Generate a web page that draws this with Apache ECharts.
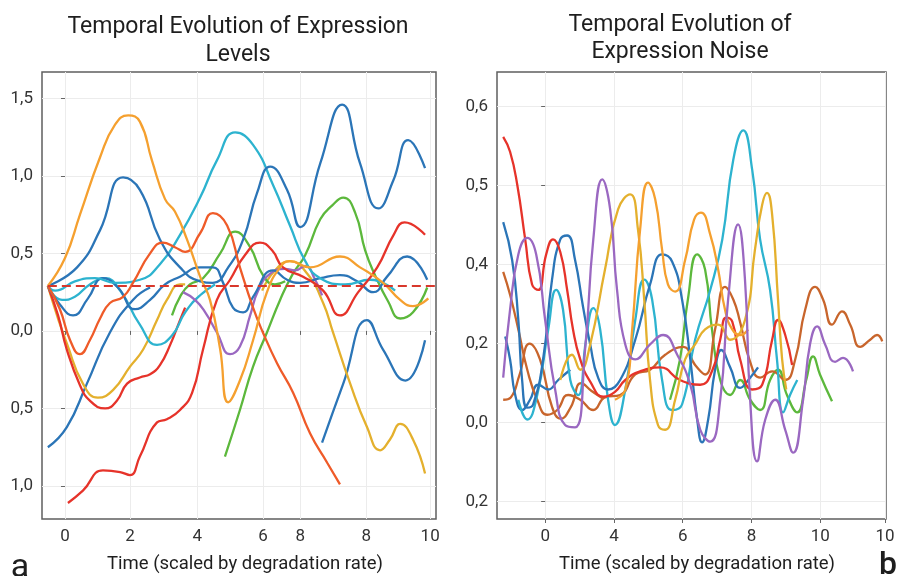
<!DOCTYPE html>
<html>
<head>
<meta charset="utf-8">
<script src="https://cdn.jsdelivr.net/npm/echarts@6/dist/echarts.min.js"></script>
<style>
  html, body { margin: 0; background: #fff; }
  #chart { width: 898px; height: 576px; }
</style>
</head>
<body>
<div id="chart"></div>
<script>
// ---- panel a: tick positions and labels (labels copied as printed) ----
const levelXTicks = [0, 1.78, 3.62, 5.42, 6.44, 8.25, 10];
const levelXLabels = ['0', '2', '4', '6', '8', '8', '10'];
const levelYTicks = [-1, -0.5, 0, 0.5, 1, 1.5];
const levelYLabels = ['1,0', '0,5', '0,0', '0,5', '1,0', '1,5'];
const levelBaseline = 0.29;

// ---- panel a: traces [time, level] ----
const levelOrange = [[-0.47,0.29],[0,0.47],[0.41,0.75],[0.96,1.12],[1.37,1.33],[1.73,1.39],[2.05,1.35],[2.38,1.10],[2.74,0.85],[3.01,0.77],[3.34,0.59],[3.70,0.35],[3.97,0.20],[4.25,-0.12],[4.47,-0.46],[4.79,-0.32],[5.15,-0.06],[5.53,0.25],[5.89,0.41],[6.16,0.45],[6.71,0.41],[7.53,0.48],[8.08,0.41],[8.71,0.31],[9.18,0.20],[9.53,0.16],[9.95,0.21]];
const levelBlueA = [[-0.47,0.29],[0.33,0.41],[0.96,0.65],[1.59,0.99],[2.05,0.91],[2.60,0.59],[3.15,0.41],[3.70,0.32],[4.05,0.31],[4.47,0.41],[4.88,0.59],[5.26,0.89],[5.62,1.06],[6.08,0.91],[6.44,0.67],[6.99,1.08],[7.59,1.46],[8.08,1.08],[8.58,0.79],[8.99,0.97],[9.40,1.23],[9.86,1.05]];
const levelBlueB = [[-0.47,0.29],[-0.14,0.17],[0.22,0.10],[0.63,0.21],[1.04,0.34],[1.45,0.28],[1.92,0.14],[2.33,0.20],[2.74,0.30],[3.15,0.35],[3.70,0.41],[4.05,0.41],[4.33,0.31],[4.60,0.15],[4.88,0.12],[5.15,0.22],[5.70,0.39],[6.08,0.33],[6.44,0.31],[6.99,0.34],[7.53,0.36],[8.00,0.32],[8.44,0.25],[8.82,0.35],[9.37,0.48],[9.92,0.33]];
const levelBlueC = [[7.04,-0.72],[7.62,-0.34],[8.27,0.07],[8.71,-0.12],[9.32,-0.32],[9.86,-0.06]];
const levelBlueD = [[-0.47,-0.75],[0.05,-0.62],[0.60,-0.34],[1.23,-0.01],[1.86,0.20],[2.33,0.28]];
const levelCyanA = [[-0.47,0.29],[-0.27,0.26],[0.27,0.32],[0.82,0.34],[1.37,0.31],[2.05,0.33],[2.60,0.43],[3.15,0.62],[3.70,0.86],[4.16,1.10],[4.66,1.28],[5.15,1.20],[5.70,0.94],[6.16,0.68],[6.58,0.45],[6.99,0.34],[7.67,0.30],[8.36,0.33],[9.04,0.26]];
const levelCyanB = [[-0.47,0.29],[-0.08,0.20],[0.27,0.22],[0.68,0.30],[1.10,0.34],[1.51,0.26],[2.05,0.04],[2.52,-0.09],[2.93,-0.03],[3.29,0.12],[3.70,0.23],[4.11,0.30]];
const levelRedA = [[0.08,-1.11],[0.49,-1.03],[1.04,-0.90],[1.51,-0.91],[1.78,-0.93],[2.05,-0.81],[2.52,-0.59],[2.79,-0.57],[3.15,-0.51],[3.48,-0.40],[3.78,-0.12],[4.16,0.20],[4.52,0.33],[4.93,0.49],[5.34,0.57],[5.67,0.52],[5.97,0.41],[6.52,0.35],[7.07,0.26],[7.53,0.10],[8.03,0.25],[8.55,0.41],[9.00,0.62],[9.30,0.70],[9.86,0.62]];
const levelRedB = [[-0.47,0.29],[-0.14,0.14],[0.14,-0.06],[0.41,-0.15],[0.68,-0.06],[0.96,0.08],[1.23,0.18],[1.59,0.22],[1.86,0.31],[2.33,0.50],[2.68,0.57],[3.01,0.54],[3.29,0.51],[3.70,0.63],[4.05,0.76],[4.44,0.68],[4.79,0.41],[5.15,0.15],[5.42,-0.01],[5.81,-0.21],[6.25,-0.40],[6.71,-0.66],[7.18,-0.85],[7.53,-0.99]];
const levelRedC = [[-0.47,0.29],[-0.19,0.10],[0.05,-0.12],[0.41,-0.35],[0.68,-0.45],[1.10,-0.50],[1.42,-0.45],[1.70,-0.34],[2.05,-0.30],[2.33,-0.28],[2.60,-0.22],[2.88,-0.09],[3.15,0.07],[3.29,0.15]];
const levelPurple = [[3.23,0.25],[3.56,0.20],[3.84,0.12],[4.16,-0.01],[4.52,-0.15],[4.79,-0.10],[5.07,0.10],[5.29,0.26],[5.62,0.37],[6.03,0.40],[6.30,0.39],[6.58,0.42],[6.85,0.33],[7.04,0.23]];
const levelGoldA = [[-0.47,0.29],[-0.19,0.08],[0.05,-0.08],[0.49,-0.34],[0.90,-0.43],[1.32,-0.38],[1.78,-0.23],[2.14,-0.12],[2.52,0.07],[2.79,0.20],[3.15,0.30],[3.29,0.30]];
const levelGoldB = [[5.40,0.26],[5.75,0.39],[6.16,0.45],[6.63,0.37],[7.07,0.18],[7.34,-0.01],[7.81,-0.34],[8.27,-0.62],[8.63,-0.77],[8.90,-0.70],[9.18,-0.60],[9.53,-0.70],[9.86,-0.92]];
const levelGreenA = [[4.38,-0.81],[4.79,-0.51],[5.15,-0.23],[5.53,-0.01],[5.89,0.20],[6.22,0.36],[6.58,0.49],[6.99,0.72],[7.32,0.81],[7.62,0.86],[7.95,0.76],[8.22,0.52],[8.49,0.36],[8.85,0.19],[9.18,0.08],[9.53,0.12],[9.92,0.28]];
const levelGreenB = [[2.93,0.10],[3.15,0.22],[3.42,0.30],[3.78,0.34],[4.25,0.50],[4.66,0.64],[5.07,0.54],[5.42,0.36],[5.75,0.30],[6.03,0.32]];

// ---- panel b: tick positions and labels (labels copied as printed) ----
const noiseXTicks = [0, 2, 4, 6, 8, 9.88];
const noiseXLabels = ['0', '4', '6', '8', '10', '10'];
const noiseYTicks = [0.1, 0.2, 0.3, 0.4, 0.5, 0.6];
const noiseYLabels = ['0,2', '0,0', '0,2', '0,4', '0,5', '0,6'];

// ---- panel b: traces [time, noise] ----
const noiseRed = [[-1.22,0.562],[-1.02,0.543],[-0.81,0.501],[-0.58,0.432],[-0.38,0.375],[-0.20,0.368],[0.03,0.413],[0.23,0.432],[0.44,0.416],[0.64,0.368],[0.81,0.318],[1.02,0.280],[1.31,0.252],[1.69,0.233],[2.03,0.239],[2.33,0.254],[2.76,0.265],[3.34,0.270],[3.92,0.254],[4.51,0.248],[4.85,0.265],[5.09,0.305],[5.26,0.333],[5.44,0.328],[5.67,0.280],[6.02,0.242],[6.31,0.248],[6.60,0.305],[6.77,0.330],[6.98,0.311],[7.18,0.273]];
const noiseBlueA = [[-1.22,0.454],[-0.96,0.406],[-0.78,0.330],[-0.67,0.254],[-0.52,0.219],[-0.35,0.223],[-0.06,0.280],[0.20,0.381],[0.44,0.432],[0.64,0.437],[0.87,0.406],[1.10,0.347],[1.31,0.299],[1.54,0.257],[1.83,0.242],[2.18,0.254],[2.62,0.305],[3.05,0.375],[3.40,0.413],[3.69,0.404],[3.98,0.356],[4.22,0.280],[4.42,0.204],[4.56,0.175],[4.74,0.204],[4.94,0.267],[5.12,0.292],[5.38,0.270],[5.67,0.244],[5.96,0.257],[6.19,0.270]];
const noiseBlueB = [[-1.16,0.309],[-1.02,0.280],[-0.87,0.235],[-0.67,0.216],[-0.44,0.229],[-0.20,0.248],[0.09,0.242],[0.38,0.254],[0.73,0.267]];
const noisePurple = [[-1.22,0.257],[-1.02,0.343],[-0.78,0.413],[-0.52,0.434],[-0.26,0.413],[0.00,0.330],[0.29,0.242],[0.58,0.197],[0.87,0.194],[1.16,0.292],[1.40,0.432],[1.66,0.508],[1.89,0.470],[2.09,0.368],[2.33,0.299],[2.62,0.280],[3.05,0.299],[3.43,0.311],[3.84,0.286],[4.22,0.248],[4.51,0.191],[4.80,0.176],[5.09,0.229],[5.32,0.356],[5.61,0.451],[5.81,0.381],[5.96,0.229],[6.16,0.151],[6.40,0.204],[6.69,0.229],[6.98,0.191],[7.21,0.162],[7.50,0.229],[7.70,0.299],[7.91,0.322],[8.14,0.299],[8.43,0.277],[8.66,0.282],[8.95,0.265]];
const noiseCyan = [[-0.78,0.229],[-0.52,0.204],[-0.23,0.235],[0.09,0.318],[0.32,0.368],[0.52,0.343],[0.73,0.254],[0.96,0.235],[1.19,0.305],[1.40,0.345],[1.60,0.318],[1.83,0.229],[2.03,0.197],[2.33,0.242],[2.62,0.330],[2.88,0.381],[3.11,0.356],[3.40,0.254],[3.69,0.216],[3.98,0.223],[4.36,0.305],[4.80,0.368],[5.15,0.432],[5.47,0.533],[5.76,0.570],[6.02,0.520],[6.25,0.432],[6.54,0.368],[6.74,0.280],[6.92,0.213],[7.12,0.235],[7.33,0.254]];
const noiseGold = [[0.44,0.254],[0.78,0.286],[1.02,0.267],[1.31,0.299],[1.74,0.394],[2.12,0.470],[2.47,0.489],[2.70,0.444],[2.88,0.356],[3.05,0.254],[3.28,0.197],[3.49,0.191],[3.78,0.229],[4.07,0.280],[4.36,0.299],[4.65,0.318],[5.03,0.324],[5.38,0.305],[5.81,0.330],[6.10,0.419],[6.31,0.476],[6.45,0.491],[6.60,0.463],[6.77,0.356],[6.89,0.280],[7.01,0.242]];
const noiseOrange = [[2.03,0.229],[2.33,0.242],[2.53,0.318],[2.76,0.444],[2.99,0.504],[3.20,0.483],[3.40,0.419],[3.57,0.375],[3.78,0.366],[4.07,0.406],[4.33,0.457],[4.53,0.466],[4.80,0.438],[5.03,0.394],[5.23,0.343],[5.44,0.318],[5.67,0.311],[5.90,0.318]];
const noiseGreen = [[3.63,0.229],[3.92,0.280],[4.15,0.356],[4.42,0.413],[4.65,0.394],[4.85,0.318],[5.09,0.254],[5.38,0.235],[5.67,0.254],[5.96,0.229],[6.25,0.216],[6.54,0.254],[6.77,0.267],[7.03,0.235],[7.33,0.213],[7.59,0.254],[7.79,0.284],[7.99,0.261],[8.34,0.227]];
const noiseBrownA = [[-1.22,0.391],[-1.02,0.362],[-0.78,0.318],[-0.52,0.267],[-0.23,0.229],[0.06,0.210],[0.35,0.216],[0.67,0.235],[1.02,0.229],[1.40,0.216],[1.74,0.232],[2.18,0.235],[2.62,0.261],[3.05,0.267],[3.49,0.286],[4.01,0.296],[4.36,0.273],[4.65,0.261],[4.94,0.318],[5.23,0.372],[5.47,0.356],[5.67,0.327],[5.96,0.277],[6.25,0.257],[6.60,0.265],[6.98,0.254],[7.27,0.280],[7.56,0.343],[7.85,0.372],[8.08,0.356],[8.34,0.324],[8.63,0.341],[8.87,0.324],[9.16,0.296],[9.45,0.305],[9.65,0.311],[9.80,0.303]];
const noiseBrownB = [[-1.22,0.229],[-1.00,0.232],[-0.75,0.260],[-0.45,0.300],[-0.15,0.280],[0.20,0.220],[0.45,0.205],[0.75,0.220],[1.05,0.250],[1.35,0.240],[1.70,0.230]];

const C = {
  blue: '#2b75b7', cyan: '#2db3cf', orange: '#f5a02f', gold: '#e4b02d',
  red: '#e6332a', redOrange: '#ef5b29', green: '#5cb83c', purple: '#9a68c1', brown: '#c8652c'
};

const chart = echarts.init(document.getElementById('chart'));

const labelOf = (ticks, labels) => v => {
  const i = ticks.findIndex(t => Math.abs(t - v) < 1e-6);
  return i < 0 ? '' : labels[i];
};

const trace = (data, color, idx) => ({
  type: 'line',
  xAxisIndex: idx,
  yAxisIndex: idx,
  data: data,
  smooth: 0.5,
  symbol: 'none',
  silent: true,
  lineStyle: { color: color, width: 2.3 }
});

const axisBase = (idx, min, max, ticks, labels) => ({
  type: 'value',
  gridIndex: idx,
  min: min,
  max: max,
  axisLine: { show: false },
  axisTick: { show: true, customValues: ticks, length: 4, lineStyle: { color: '#666' } },
  axisLabel: {
    customValues: ticks,
    formatter: labelOf(ticks, labels),
    color: '#333',
    fontSize: 17,
    fontFamily: 'Roboto',
    margin: 9
  },
  splitLine: { show: true, lineStyle: { color: '#ececec', width: 1 } }
});

const textStyle = (text, x, y, font) => ({
  type: 'text', x: x, y: y,
  style: { text: text, fill: '#1e1e1e', font: font, textAlign: 'center', textVerticalAlign: 'middle' }
});

const option = {
  backgroundColor: '#fff',
  animation: false,
  grid: [
    { left: 42, top: 72, width: 394, height: 447, show: true, borderColor: '#5f5f5f', borderWidth: 1.5 },
    { left: 497, top: 72, width: 389, height: 447, show: true, borderColor: '#5f5f5f', borderWidth: 1.5 }
  ],
  xAxis: [
    axisBase(0, -0.63, 10.16, levelXTicks, levelXLabels),
    axisBase(1, -1.40, 9.91, noiseXTicks, noiseXLabels)
  ],
  yAxis: [
    axisBase(0, -1.213, 1.67, levelYTicks, levelYLabels),
    axisBase(1, 0.078, 0.644, noiseYTicks, noiseYLabels)
  ],
  graphic: [
    textStyle('Temporal Evolution of Expression', 238, 27, '23px Roboto'),
    textStyle('Levels', 238, 55, '23px Roboto'),
    textStyle('Temporal Evolution of', 680, 25, '23px Roboto'),
    textStyle('Expression Noise', 680, 52, '23px Roboto'),
    textStyle('Time (scaled by degradation rate)', 245, 564, '18.5px Roboto'),
    textStyle('Time (scaled by degradation rate)', 697, 564, '18.5px Roboto'),
    textStyle('a', 20, 568, '34px Roboto'),
    textStyle('b', 888, 566, '500 32px Roboto')
  ],
  series: [
    trace(levelBlueD, C.blue, 0),
    trace(levelBlueC, C.blue, 0),
    trace(levelGoldA, C.gold, 0),
    trace(levelGoldB, C.gold, 0),
    trace(levelRedC, C.red, 0),
    trace(levelCyanB, C.cyan, 0),
    trace(levelGreenB, C.green, 0),
    trace(levelGreenA, C.green, 0),
    trace(levelPurple, C.purple, 0),
    trace(levelBlueB, C.blue, 0),
    trace(levelCyanA, C.cyan, 0),
    trace(levelBlueA, C.blue, 0),
    trace(levelRedA, C.red, 0),
    trace(levelRedB, C.redOrange, 0),
    trace(levelOrange, C.orange, 0),
    {
      type: 'line',
      xAxisIndex: 0,
      yAxisIndex: 0,
      data: [[-0.47, levelBaseline], [10.16, levelBaseline]],
      symbol: 'none',
      silent: true,
      z: 5,
      lineStyle: { color: '#d8382c', width: 2, type: [9, 5] }
    },

    trace(noiseBrownB, C.brown, 1),
    trace(noiseBlueB, C.blue, 1),
    trace(noiseGreen, C.green, 1),
    trace(noiseBrownA, C.brown, 1),
    trace(noiseCyan, C.cyan, 1),
    trace(noiseBlueA, C.blue, 1),
    trace(noiseRed, C.red, 1),
    trace(noiseGold, C.gold, 1),
    trace(noiseOrange, C.orange, 1),
    trace(noisePurple, C.purple, 1)
  ]
};

chart.setOption(option);
</script>
</body>
</html>
